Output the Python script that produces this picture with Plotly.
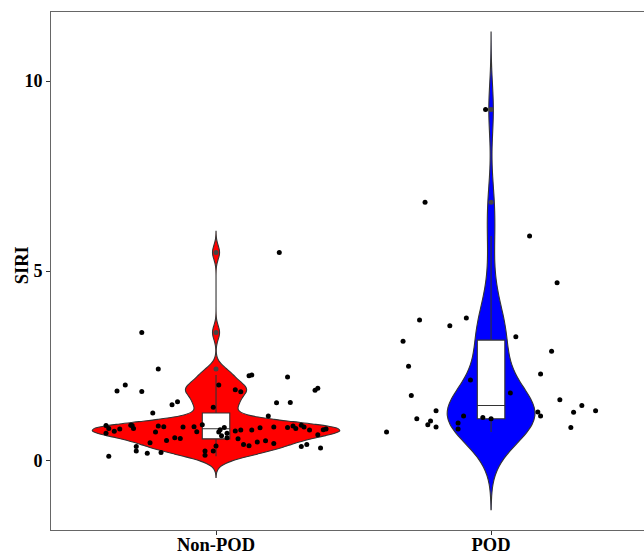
import numpy as np
import plotly.graph_objects as go

categories = ["Non-POD", "POD"]

nonpod_siri = [2.42, 2.00, 1.84, 1.83, 1.56, 1.48, 1.26, 1.41, 2.00, 0.93,
               0.85, 0.84, 0.78, 0.73, 0.94, 0.93, 0.85, 0.92, 0.90, 0.76,
               0.89, 0.90, 0.77, 0.95, 0.48, 0.54, 0.61, 0.59, 0.38, 0.26,
               0.20, 0.22, 0.12, 0.26, 0.15, 0.26, 0.39, 0.76, 2.24, 2.26,
               2.21, 1.87, 1.82, 1.91, 1.86, 1.53, 1.54, 1.18, 0.82, 0.88,
               0.66, 0.61, 0.73, 0.79, 0.81, 0.81, 0.87, 0.89, 0.88, 0.92,
               0.85, 0.94, 0.89, 0.81, 0.82, 0.84, 0.69, 0.58, 0.43, 0.40,
               0.50, 0.53, 0.46, 0.38, 0.43, 0.34, 3.38, 5.49]
nonpod_jitter = [-0.21, -0.33, -0.36, -0.27, -0.14, -0.16, -0.23, -0.01, 0.01, -0.40,
                 -0.39, -0.35, -0.37, -0.40, -0.31, -0.305, -0.30, -0.21, -0.19, -0.22,
                 -0.12, -0.08, -0.07, -0.05, -0.24, -0.18, -0.15, -0.13, -0.29, -0.29,
                 -0.25, -0.20, -0.39, -0.04, -0.04, -0.01, 0.00, 0.01, 0.12, 0.13,
                 0.26, 0.07, 0.09, 0.37, 0.36, 0.22, 0.27, 0.19, 0.015, 0.03,
                 0.02, 0.04, 0.04, 0.07, 0.09, 0.13, 0.16, 0.21, 0.26, 0.28,
                 0.29, 0.31, 0.32, 0.34, 0.39, 0.40, 0.37, 0.08, 0.10, 0.12,
                 0.15, 0.18, 0.21, 0.31, 0.33, 0.38, -0.27, 0.23]

pod_siri = [3.71, 3.56, 3.76, 3.15, 2.49, 2.13, 1.72, 1.32, 1.11, 1.05,
            0.95, 0.89, 1.18, 1.00, 0.84, 0.76, 1.14, 1.11, 5.92, 4.69,
            3.27, 2.89, 2.29, 1.79, 1.61, 1.46, 1.32, 1.28, 1.29, 1.18,
            0.88, 6.81, 9.25]
pod_jitter = [-0.26, -0.15, -0.09, -0.32, -0.30, -0.075, -0.29, -0.20, -0.27, -0.22,
              -0.23, -0.20, -0.10, -0.12, -0.12, -0.38, -0.03, 0.00, 0.14, 0.24,
              0.09, 0.22, 0.18, 0.07, 0.25, 0.33, 0.38, 0.30, 0.17, 0.18,
              0.29, -0.24, -0.02]

fills = ["#FF0000", "#0000FF"]
groups = [nonpod_siri, pod_siri]
jitters = [nonpod_jitter, pod_jitter]


def bw_nrd0(v):
    v = np.asarray(v, dtype=float)
    sd = v.std(ddof=1)
    iqr = np.quantile(v, 0.75) - np.quantile(v, 0.25)
    lo = min(sd, iqr / 1.34)
    return 0.9 * lo * len(v) ** -0.2


def kde_peak(v, bw):
    v = np.asarray(v, dtype=float)
    grid = np.linspace(v.min() - 3 * bw, v.max() + 3 * bw, 2000)
    d = np.exp(-0.5 * ((grid[:, None] - v[None, :]) / bw) ** 2).sum(axis=1)
    return (d / (len(v) * bw * np.sqrt(2 * np.pi))).max()


bws = [bw_nrd0(g) for g in groups]
peaks = [kde_peak(g, b) for g, b in zip(groups, bws)]
# ggplot "area" scaling: widest density gets full width 0.9
vwidths = [0.9 * p / max(peaks) for p in peaks]

fig = go.Figure()
for i, (vals, col) in enumerate(zip(groups, fills)):
    pos = i + 1
    bw = bws[i]
    fig.add_trace(go.Violin(
        x=[pos] * len(vals), y=vals, width=vwidths[i],
        bandwidth=bw, spanmode="manual",
        span=[min(vals) - 3 * bw, max(vals) + 3 * bw],
        scalegroup="g%d" % i, scalemode="width",
        fillcolor=col, line=dict(color="#333333", width=1.1),
        opacity=1, points=False, box=dict(visible=False),
        meanline=dict(visible=False), showlegend=False, hoverinfo="skip"))

for i, vals in enumerate(groups):
    pos = i + 1
    fig.add_trace(go.Box(
        x=[pos] * len(vals), y=vals, width=0.1,
        fillcolor="white", line=dict(color="#333333", width=1.1),
        whiskerwidth=0, boxpoints="outliers", jitter=0, pointpos=0,
        marker=dict(color="#444444", size=5, line=dict(width=0)),
        showlegend=False, hoverinfo="skip"))

for i, (vals, jit) in enumerate(zip(groups, jitters)):
    pos = i + 1
    fig.add_trace(go.Scatter(
        x=[pos + j for j in jit], y=vals, mode="markers",
        marker=dict(color="black", size=5),
        showlegend=False, hoverinfo="skip"))

font = dict(family="Liberation Serif", color="black", size=18, weight="bold")

fig.update_layout(
    width=644, height=554, autosize=False,
    margin=dict(l=51, r=0, t=12, b=24, autoexpand=False),
    paper_bgcolor="white", plot_bgcolor="white",
    violinmode="overlay", boxmode="overlay",
    font=font, hovermode=False,
    xaxis=dict(range=[0.4, 2.556], tickvals=[1, 2], ticktext=categories,
               automargin=False, ticklabelstandoff=-6,
               showgrid=False, zeroline=False, showline=True, mirror=True,
               linecolor="#666666", linewidth=1, ticks="outside", ticklen=4,
               tickcolor="#333333", tickfont=dict(font, size=18.5)),
    yaxis=dict(range=[-1.82, 11.82], tickvals=[0, 5, 10],
               automargin=False,
               showgrid=False, zeroline=False, showline=True, mirror=True,
               linecolor="#666666", linewidth=1, ticks="outside", ticklen=4,
               tickcolor="#333333", tickfont=font),
    annotations=[dict(text="SIRI", textangle=-90, xref="paper", yref="paper",
                      x=-0.0497, y=0.51, xanchor="center", yanchor="middle",
                      showarrow=False, font=dict(font, size=18.5))],
)

fig.write_html(
    "out.html",
    config={"responsive": False, "displayModeBar": False},
    post_script="document.body.style.margin='0';document.body.style.overflow='hidden';",
)
